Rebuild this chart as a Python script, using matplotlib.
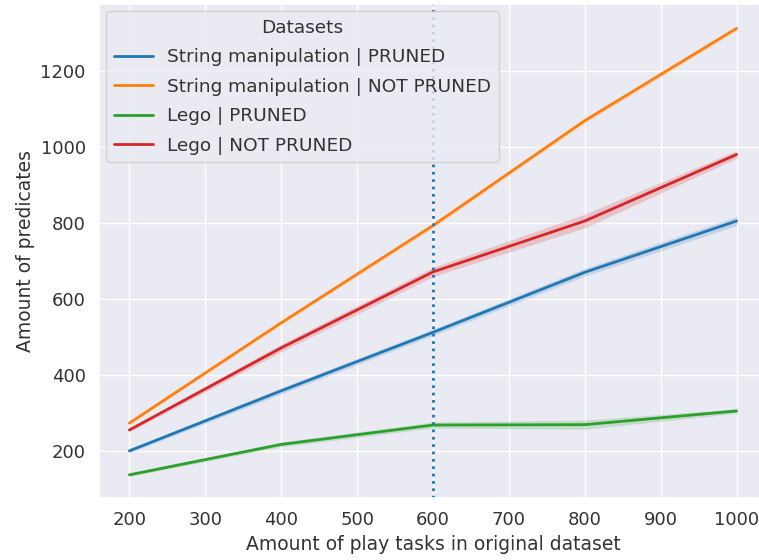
import matplotlib
matplotlib.use("Agg")
import matplotlib.pyplot as plt
import numpy as np
import seaborn as sns

# play tasks in the original dataset
tasks = [200, 400, 600, 800, 1000]

# mean amount of predicates per dataset
string_pruned = [200, 358, 512, 670, 805]
string_not_pruned = [273, 537, 793, 1069, 1312]
lego_pruned = [137, 217, 268, 269, 305]
lego_not_pruned = [255, 471, 671, 805, 980]

# half width of the confidence band
string_pruned_ci = [5, 8, 8, 10, 12]
string_not_pruned_ci = [4, 5, 6, 6, 6]
lego_pruned_ci = [4, 6, 8, 12, 6]
lego_not_pruned_ci = [5, 10, 12, 18, 10]

labels = ['String manipulation | PRUNED', 'String manipulation | NOT PRUNED',
          'Lego | PRUNED', 'Lego | NOT PRUNED']
means = [string_pruned, string_not_pruned, lego_pruned, lego_not_pruned]
cis = [string_pruned_ci, string_not_pruned_ci, lego_pruned_ci, lego_not_pruned_ci]

sns.set_theme(style='darkgrid')
palette = sns.color_palette('tab10')

fig = plt.figure(figsize=(7.59, 5.6), dpi=100)
ax = fig.add_axes([99 / 759, 62 / 560, 668 / 759, 494 / 560])

for i, (label, m, c) in enumerate(zip(labels, means, cis)):
    m = np.array(m)
    c = np.array(c)
    ax.fill_between(tasks, m - c, m + c, color=palette[i], alpha=0.2, linewidth=0)
    ax.plot(tasks, m, color=palette[i], label=label, linewidth=2)

ax.axvline(600, color=palette[0], linestyle=':', linewidth=2)

ax.set_xlim(160, 1040)
ax.set_ylim(76, 1376)
ax.set_xticks(range(200, 1001, 100))
ax.set_yticks(range(200, 1201, 200))
ax.set_xlabel('Amount of play tasks in original dataset', fontsize=13.5, color='#333333')
ax.set_ylabel('Amount of predicates', fontsize=13.5, color='#333333')
ax.tick_params(labelsize=13, labelcolor='#333333')
leg = ax.legend(title='Datasets', loc='upper left', fontsize=13.3, title_fontsize=13.3,
                borderaxespad=0.4, labelspacing=0.62, handlelength=2.1)
for t in leg.get_texts():
    t.set_color('#333333')
leg.get_title().set_color('#333333')

fig.savefig('out.png', dpi=100)
